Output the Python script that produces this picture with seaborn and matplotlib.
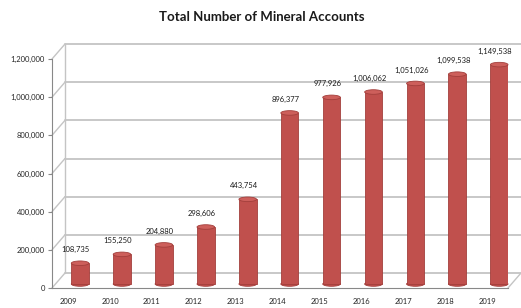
import numpy as np
import pandas as pd
import matplotlib
matplotlib.use('Agg')
import matplotlib.pyplot as plt
import matplotlib.transforms as mtrans
from matplotlib.patches import Ellipse
import seaborn as sns

# Data
years = ['2009', '2010', '2011', '2012', '2013', '2014', '2015', '2016', '2017', '2018', '2019']
accounts = [108735, 155250, 204880, 298606, 443754, 896377, 977926, 1006062, 1051026, 1099538, 1149538]
y_ticks = [0, 200000, 400000, 600000, 800000, 1000000, 1200000]

df = pd.DataFrame({'Year': years, 'Accounts': accounts})

sns.set_style('white')
plt.rcParams['font.family'] = ['Lato', 'DejaVu Sans']

fig = plt.figure(figsize=(5.21, 3.08), dpi=100)
ax = fig.add_axes([52 / 521, 20 / 308, 456 / 521, 229 / 308])
ax.set_facecolor('none')

sns.barplot(data=df, x='Year', y='Accounts', color='#c0504d', width=0.42,
            saturation=1, edgecolor='#a33f3c', linewidth=0.6, ax=ax, zorder=3)

xmin, xmax = -0.67, 10.21
ax.set_xlim(xmin, xmax)
ax.set_ylim(0, y_ticks[-1])

# bars stand a little behind the front axis -> lift them slightly
mid = ax.transData + mtrans.ScaledTranslation(0, 4 / 100, fig.dpi_scale_trans)
for p in ax.patches:
    p.set_transform(mid)

# Back wall offset (pseudo 3D look)
dx, dy = 13 / 100, 15 / 100
back = ax.transData + mtrans.ScaledTranslation(dx, dy, fig.dpi_scale_trans)
to_fig = fig.transFigure.inverted()
grid_c = '#c4c4c4'


def fig_line(p, q):
    a, b = to_fig.transform(p), to_fig.transform(q)
    fig.add_artist(plt.Line2D([a[0], b[0]], [a[1], b[1]], color=grid_c, lw=1.0, zorder=0))


for v in y_ticks:
    ax.plot([xmin, xmax + 0.1], [v, v], color=grid_c, lw=1.3, transform=back,
            clip_on=False, zorder=0)
    fig_line(ax.transData.transform((xmin, v)), back.transform((xmin, v)))
fig_line(back.transform((xmin, 0)), back.transform((xmin, y_ticks[-1])))
fig_line(ax.transData.transform((xmax, 0)), back.transform((xmax, 0)))

# cylinder caps and value labels
for i, v in enumerate(accounts):
    ax.add_patch(Ellipse((i, v), 0.42, 24000, facecolor='#cd5f5b', edgecolor='#a33f3c',
                         lw=0.6, zorder=4, transform=mid, clip_on=False))
    ax.add_patch(Ellipse((i, 0), 0.42, 24000, facecolor='#c0504d', edgecolor='#a33f3c',
                         lw=0.6, zorder=2, transform=mid, clip_on=False))
    ax.annotate(f'{v:,}', (i - 0.1, v), xytext=(0, 10), textcoords='offset points',
                ha='center', va='bottom', fontsize=5.5, color='#1a1a1a')

ax.set_yticks(y_ticks)
ax.set_yticklabels([f'{t:,}' for t in y_ticks], fontsize=5.5)
ax.set_xlabel('')
ax.set_ylabel('')
ax.tick_params(axis='y', length=3, color='#888888', pad=2, left=True)
ax.tick_params(axis='x', length=0, pad=7, labelsize=5.5)
shift = mtrans.ScaledTranslation(-12 / 100, 0, fig.dpi_scale_trans)
for lab in ax.get_xticklabels():
    lab.set_transform(lab.get_transform() + shift)

for s in ['top', 'right']:
    ax.spines[s].set_visible(False)
ax.spines['left'].set_color('#888888')
ax.spines['bottom'].set_color('#888888')
ax.spines['left'].set_linewidth(0.8)
ax.spines['bottom'].set_linewidth(0.8)

fig.text(262 / 521, 1 - 17 / 308, 'Total Number of Mineral Accounts', ha='center',
         va='center', fontsize=9.5, fontweight='bold', color='#1a1a1a')

fig.savefig('out.png', dpi=100)
